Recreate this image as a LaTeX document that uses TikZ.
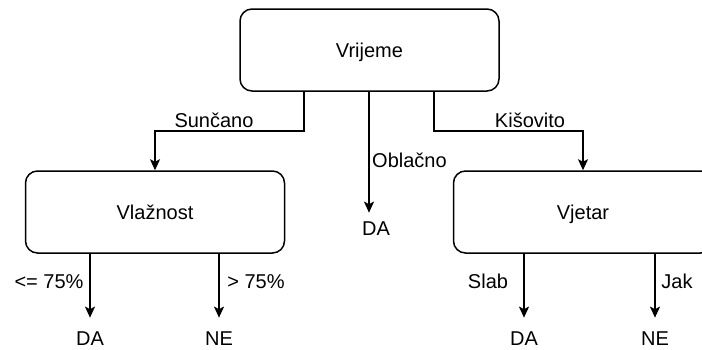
\documentclass[tikz,border=0pt]{standalone}
\usepackage{fontspec}
\setmainfont{Liberation Sans}
\usetikzlibrary{arrows.meta}
\begin{document}
\begin{tikzpicture}[x=1pt,y=-1pt,
  every node/.style={font=\fontsize{20}{24}\selectfont, text height=14.3pt, text depth=0pt, inner sep=0pt},
  boxnode/.style={draw, rounded corners=12pt, line width=1.5pt, minimum width=259pt, minimum height=82pt},
  leafnode/.style={inner ysep=13pt},
  lbl/.style={},
  arr/.style={line width=1.5pt, -{Stealth[length=11pt,width=10pt,inset=2.5pt]}}]
\clip (0,0) rectangle (702,349);
\node[boxnode] (vr) at (369.5,50) {Vrijeme};
\node[boxnode] (vl) at (155,212) {Vla\v{z}nost};
\node[boxnode] (vj) at (583,212) {Vjetar};
\node[leafnode, inner ysep=8pt] (da0) at (376,228) {DA};
\node[leafnode] (da1) at (90,338) {DA};
\node[leafnode] (ne1) at (219,338) {NE};
\node[leafnode] (da2) at (524,338) {DA};
\node[leafnode] (ne2) at (655,338) {NE};
\node[lbl] (l1) at (214,120) {Sun\v{c}ano};
\node[lbl] (l2) at (530,120) {Ki\v{s}ovito};
\node[lbl, anchor=west] (l3) at (372,160) {Obla\v{c}no};
\node[lbl] (l4) at (49,281) {<= 75\%};
\node[lbl] (l5) at (256,281) {> 75\%};
\node[lbl] (l6) at (488,281) {Slab};
\node[lbl] (l7) at (677,281) {Jak};
\draw[arr] ([xshift=-65.5pt]vr.south) -- ++(0,39) -| (vl.north);
\draw[arr] ([xshift=64.5pt]vr.south) -- ++(0,39) -| (vj.north);
\draw[arr] ([xshift=-0.5pt]vr.south) -- ([xshift=-0.5pt]vr.south |- da0.north);
\draw[arr] (da1.north |- vl.south) -- (da1.north);
\draw[arr] (ne1.north |- vl.south) -- (ne1.north);
\draw[arr] (da2.north |- vj.south) -- (da2.north);
\draw[arr] (ne2.north |- vj.south) -- (ne2.north);
\end{tikzpicture}
\end{document}
